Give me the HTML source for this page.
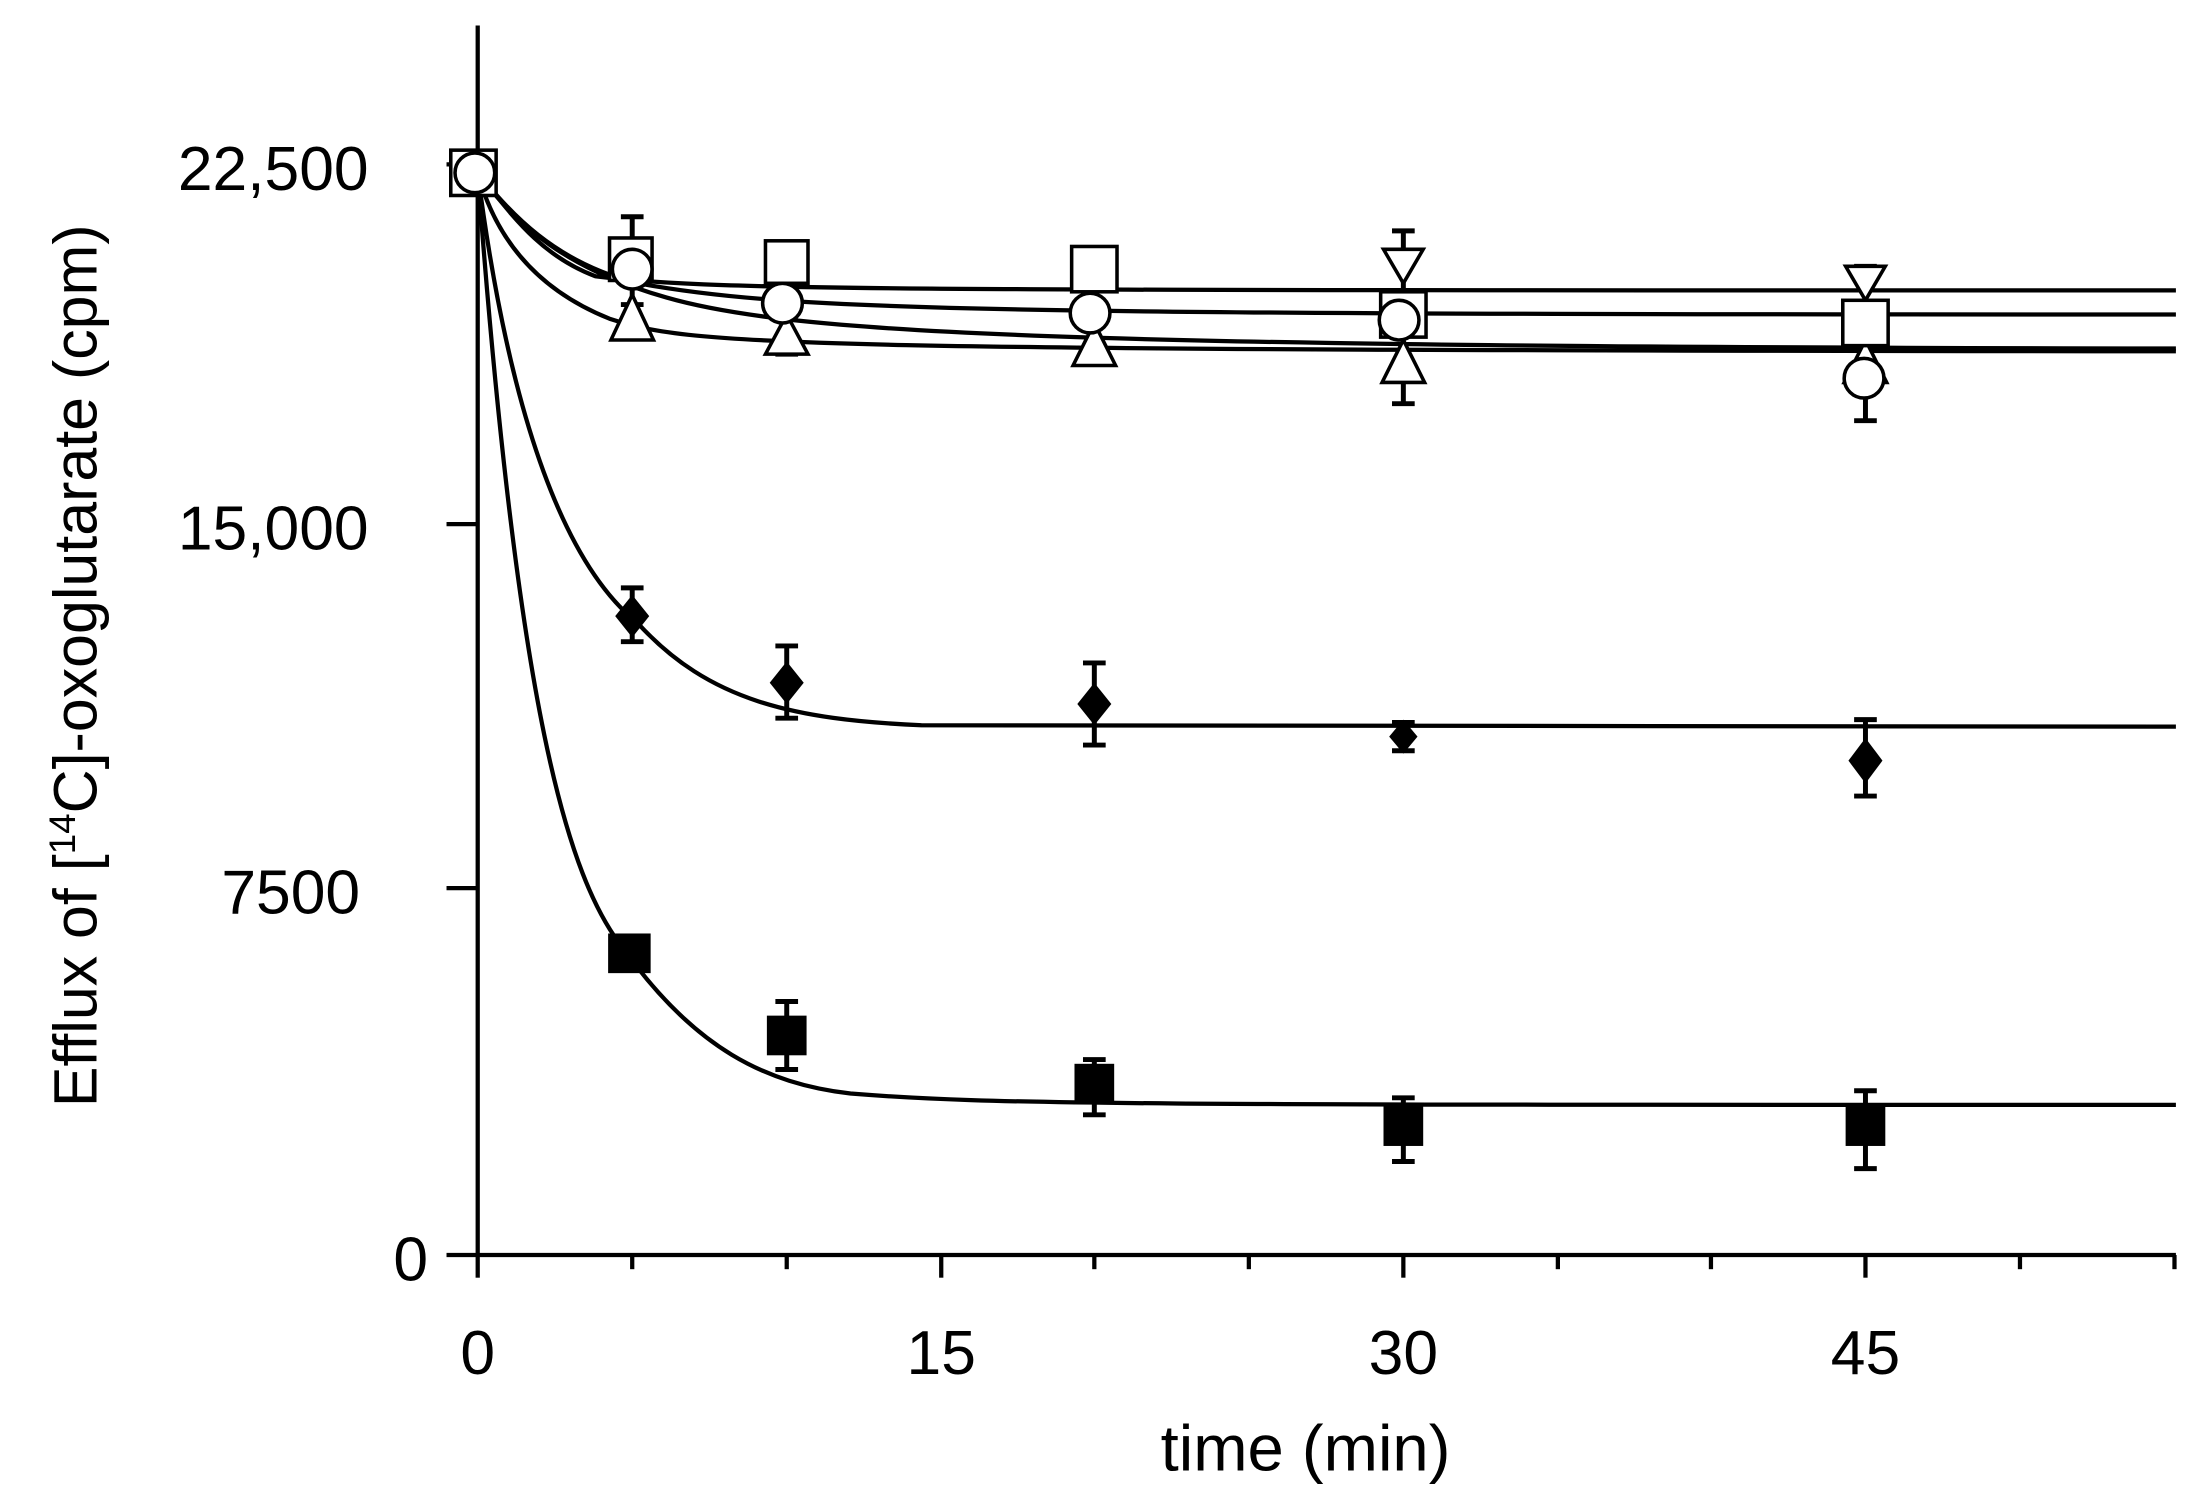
<!DOCTYPE html>
<html><head><style>html,body{margin:0;padding:0;background:#fff}svg{display:block}</style></head>
<body>
<svg width="2200" height="1493" viewBox="0 0 1552 1054" preserveAspectRatio="none" xmlns="http://www.w3.org/2000/svg" font-family="Liberation Sans, Arial, sans-serif">
<g stroke="#000" stroke-width="3" fill="none">
<line x1="337" y1="18" x2="337" y2="886"/>
<line x1="337" y1="886" x2="1535" y2="886"/>
<line x1="315" y1="116" x2="337" y2="116"/>
<line x1="315" y1="370" x2="337" y2="370"/>
<line x1="315" y1="627" x2="337" y2="627"/>
<line x1="315" y1="886" x2="337" y2="886"/>
<line x1="337" y1="886" x2="337" y2="902"/>
<line x1="446" y1="886" x2="446" y2="896"/>
<line x1="555" y1="886" x2="555" y2="896"/>
<line x1="664" y1="886" x2="664" y2="902"/>
<line x1="772" y1="886" x2="772" y2="896"/>
<line x1="881" y1="886" x2="881" y2="896"/>
<line x1="990" y1="886" x2="990" y2="902"/>
<line x1="1099" y1="886" x2="1099" y2="896"/>
<line x1="1207" y1="886" x2="1207" y2="896"/>
<line x1="1316" y1="886" x2="1316" y2="902"/>
<line x1="1425" y1="886" x2="1425" y2="896"/>
<line x1="1534" y1="886" x2="1534" y2="896"/>
</g>
<g font-size="44" fill="#000" text-anchor="end">
<text x="260" y="134">22,500</text>
<text x="260" y="388">15,000</text>
<text x="254" y="645">7500</text>
<text x="302" y="904">0</text>
</g>
<g font-size="44" fill="#000" text-anchor="middle">
<text x="337" y="970">0</text><text x="664" y="970">15</text><text x="990" y="970">30</text><text x="1316" y="970">45</text>
<text x="921" y="1038" font-size="46">time (min)</text>
</g>
<text transform="translate(68,470) rotate(-90)" font-size="43" text-anchor="middle">Efflux of [<tspan font-size="26" dy="-15">14</tspan><tspan dy="15">C]-oxoglutarate (cpm)</tspan></text>
<g stroke="#000" stroke-width="3" fill="none">
<path d="M337,122 C360,150 380,180 420,195 C500,205 600,205 1535,205"/>
<path d="M337,122 C360,150 390,185 450,200 C560,220 700,222 1535,222"/>
<path d="M337,122 C365,160 400,190 470,210 C560,236 750,245 1535,246"/>
<path d="M337,122 C350,170 380,205 430,225 C490,245 560,247 1535,248"/>
<path d="M337,122 C360,300 400,400 450,440 C500,495 560,508 650,512 L1535,513"/>
<path d="M337,122 C365,500 400,620 440,670 C490,740 540,765 600,772 C700,780 800,780 1535,780"/>
</g>
<g stroke="#000" stroke-width="3.5" fill="none">
<path d="M446,153V215M438,153H454M438,215H454"/>
<path d="M555,185V250M547,250H563"/>
<path d="M990,163V285M982,163H998M982,285H998"/>
<path d="M1316,188V297M1308,188H1324M1308,297H1324"/>
<path d="M446,415V453M438,415H454M438,453H454"/>
<path d="M555,456V507M547,456H563M547,507H563"/>
<path d="M772,468V526M764,468H780M764,526H780"/>
<path d="M990,510V530M982,510H998M982,530H998"/>
<path d="M1316,508V562M1308,508H1324M1308,562H1324"/>
<path d="M555,707V755M547,707H563M547,755H563"/>
<path d="M772,748V787M764,748H780M764,787H780"/>
<path d="M990,775V820M982,775H998M982,820H998"/>
<path d="M1316,770V825M1308,770H1324M1308,825H1324"/>
</g>
<g fill="#000">
<rect x="429" y="659" width="30" height="28"/>
<rect x="541" y="717" width="28" height="28"/>
<rect x="758" y="751" width="28" height="28"/>
<rect x="976" y="781" width="28" height="28"/>
<rect x="1302" y="781" width="28" height="28"/>
<path d="M446,420L458,435L446,450L434,435Z"/>
<path d="M555,467L567,482L555,497L543,482Z"/>
<path d="M772,482L784,497L772,512L760,497Z"/>
<path d="M990,508L1000,520L990,532L980,520Z"/>
<path d="M1316,521L1328,537L1316,553L1304,537Z"/>
</g>
<g fill="#fff" stroke="#000" stroke-width="2.5">
<path d="M446,208L461,240L431,240Z"/>
<path d="M555,222L570,250L540,250Z"/>
<path d="M772,228L787,258L757,258Z"/>
<path d="M990,240L1005,270L975,270Z"/>
<path d="M1316,240L1331,270L1301,270Z"/>
<path d="M976,176L1004,176L990,200Z"/>
<path d="M1302,188L1330,188L1316,212Z"/>
<rect x="318" y="106" width="32" height="32"/>
<rect x="430" y="168" width="30" height="30"/>
<rect x="540" y="170" width="30" height="30"/>
<rect x="756" y="174" width="32" height="32"/>
<rect x="974" y="206" width="32" height="32"/>
<rect x="1300" y="212" width="32" height="32"/>
<circle cx="335" cy="122" r="14"/>
<circle cx="446" cy="190" r="14"/>
<circle cx="552" cy="214" r="14"/>
<circle cx="769" cy="221" r="14"/>
<circle cx="987" cy="226" r="14"/>
<circle cx="1315" cy="267" r="14"/>
</g>
</svg>
</body></html>
